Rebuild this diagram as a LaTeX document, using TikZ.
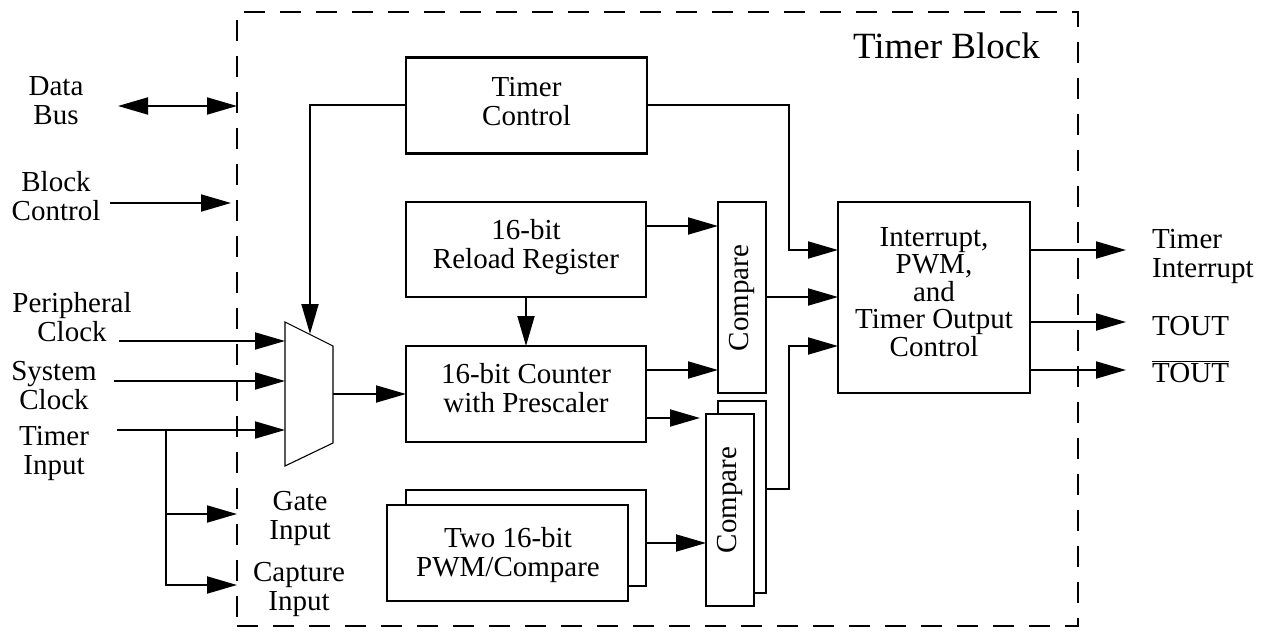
\documentclass[tikz,border=0pt]{standalone}
\usepackage{fontspec}
\setmainfont{Liberation Serif}
\usetikzlibrary{arrows.meta}
\newcommand\dfont{\fontsize{29}{29}\selectfont}
\newcommand\ifont{\fontsize{29}{27.5}\selectfont}
\newcommand\bigfont{\fontsize{37}{40}\selectfont}
\begin{document}
\begin{tikzpicture}[x=1pt,y=-1pt,
  blk/.style={draw, line width=2.1pt, inner sep=0pt, outer sep=0pt, fill=white},
  lbl/.style={font=\dfont, align=center, inner sep=0pt},
  wire/.style={line width=1.9pt},
  arr/.style={wire, -{Triangle[length=30pt,width=17pt]}},
  darr/.style={wire, {Triangle[length=30pt,width=17pt]}-{Triangle[length=30pt,width=17pt]}},
  bound/.style={draw, line width=1.9pt, dash pattern=on 21pt off 15pt, inner sep=0pt, outer sep=0pt}
]
\useasboundingbox (0,0) rectangle (1261,637);

% boundary
\node[bound, minimum width=841pt, minimum height=614pt] (tb) at (657.5,319) {};
\node[font=\bigfont, anchor=base east, inner sep=0pt] (tbl) at (1040,58) {Timer Block};

% blocks
\node[blk, minimum width=241pt, minimum height=96pt] (tc) at (526.5,105.5) {};
\node[lbl] (tct) at (526.5,102) {Timer\\Control};
\node[blk, minimum width=240pt, minimum height=95pt] (rl) at (526,249.5) {};
\node[lbl] (rlt) at (526,247) {16-bit\\Reload Register};
\node[blk, minimum width=240pt, minimum height=96pt] (cnt) at (526,394) {};
\node[lbl] (cntt) at (526,388) {16-bit Counter\\with Prescaler};
\node[blk, minimum width=240pt, minimum height=96pt] (pwmb) at (526,538) {};
\node[blk, minimum width=241pt, minimum height=96pt] (pwmf) at (507.5,553) {};
\node[lbl] (pwmt) at (508,555) {Two 16-bit\\PWM/Compare};
\node[blk, minimum width=48pt, minimum height=191pt] (cA) at (742,297.5) {};
\node[lbl, rotate=90] (cAt) at (742,298) {Compare};
\node[blk, minimum width=48pt, minimum height=192pt] (cBb) at (742,497) {};
\node[blk, minimum width=48pt, minimum height=192pt] (cBf) at (730,510) {};
\node[lbl, rotate=90] (cBt) at (730,500) {Compare};
\node[blk, minimum width=192pt, minimum height=191pt] (int) at (934,297.5) {};
\node[lbl, font=\ifont] (intt) at (934,292) {Interrupt,\\PWM,\\and\\Timer Output\\Control};

% mux
\coordinate (mA) at (285,322);
\coordinate (mB) at (333,346);
\coordinate (mC) at (333,443);
\coordinate (mD) at (285,466);
\draw[line width=1.1pt] (mA) -- (mB) -- (mC) -- (mD) -- cycle;
\coordinate (mout) at (333,394);
\coordinate (mtop) at (310,334);

% left labels
\node[lbl] (db) at (56,101) {Data\\Bus};
\node[lbl] (bc) at (56,196) {Block\\Control};
\node[lbl] (pc) at (72,317) {Peripheral\\Clock};
\node[lbl] (sc) at (54,386) {System\\Clock};
\node[lbl] (ti) at (54,453) {Timer\\Input};
\node[lbl] (gi) at (300,518) {Gate\\Input};
\node[lbl] (ci) at (299,589) {Capture\\Input};

% right labels
\node[lbl, align=left, anchor=west] (tint) at (1152,256) {Timer\\Interrupt};
\node[font=\dfont, anchor=base west, inner sep=0pt] (tout) at (1152,335) {TOUT};
\node[font=\dfont, anchor=base west, inner sep=0pt] (toutb) at (1152,382) {$\overline{\mbox{TOUT}}$};

% connectors: left side
\coordinate (dbL) at (118,106);
\draw[darr] (dbL) -- (tb.west |- dbL);
\coordinate (bcL) at (110,203);
\coordinate (bcR) at (231,203);
\draw[arr] (bcL) -- (bcR);
\coordinate (pcL) at (119,341);
\draw[arr] (pcL) -- (mA |- pcL);
\coordinate (scL) at (114,381);
\draw[arr] (scL) -- (mA |- scL);
\coordinate (tiL) at (117,430);
\draw[arr] (tiL) -- (mA |- tiL);
\coordinate (br1) at (166,430);
\coordinate (br2) at (166,514);
\draw[arr] (br1) -- (166,585) -- (tb.west |- 0,585);
\draw[arr] (br2) -- (tb.west |- br2);

% connectors: inside
\draw[arr] (tc.west |- 0,105) -- (mtop |- 0,105) -- (mtop);
\draw[arr] (mout) -- (cnt.west |- mout);
\draw[arr] (rl.south) -- (cnt.north);
\draw[arr] (rl.east |- 0,226) -- (cA.west |- 0,226);
\draw[arr] (cnt.east |- 0,370) -- (cA.west |- 0,370);
\coordinate (cBin) at (700,418);
\draw[arr] (cnt.east |- cBin) -- (cBin);
\draw[arr] (pwmb.east |- 0,543) -- (cBf.west |- 0,543);
\draw[arr] (cA.east |- 0,297) -- (int.west |- 0,297);
\draw[arr] (cBb.east |- 0,489) -- (789,489) -- (789,346) -- (int.west |- 0,346);
\draw[arr] (tc.east |- 0,105) -- (789,105) -- (789,250) -- (int.west |- 0,250);

% outputs
\coordinate (o1) at (1126,250);
\coordinate (o2) at (1126,322);
\coordinate (o3) at (1126,370);
\draw[arr] (int.east |- o1) -- (o1);
\draw[arr] (int.east |- o2) -- (o2);
\draw[arr] (int.east |- o3) -- (o3);
\end{tikzpicture}
\end{document}
